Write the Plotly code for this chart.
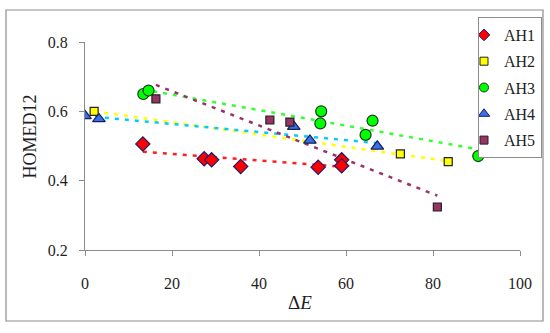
import numpy as np
import plotly.graph_objects as go

# ---- data ----
series_names = ["AH1", "AH2", "AH3", "AH4", "AH5"]
ah1_x = [13.3, 27.4, 29.1, 35.8, 53.6, 59.0, 59.0]
ah1_y = [0.506, 0.463, 0.460, 0.441, 0.439, 0.460, 0.443]
ah2_x = [2.1, 72.5, 83.5]
ah2_y = [0.600, 0.477, 0.455]
ah3_x = [13.4, 14.6, 54.3, 54.1, 66.1, 64.5, 90.4]
ah3_y = [0.650, 0.660, 0.600, 0.565, 0.573, 0.532, 0.471]
ah4_x = [0.0, 3.2, 48.0, 51.7, 67.2]
ah4_y = [0.587, 0.578, 0.556, 0.516, 0.499]
ah5_x = [16.3, 42.5, 47.1, 81.0]
ah5_y = [0.636, 0.575, 0.569, 0.324]
x_ticks = [0, 20, 40, 60, 80, 100]
y_ticks = [0.2, 0.4, 0.6, 0.8]
x_title = "Δ<i>E</i>"
y_title = "HOMED12"

xs = [ah1_x, ah2_x, ah3_x, ah4_x, ah5_x]
ys = [ah1_y, ah2_y, ah3_y, ah4_y, ah5_y]

# ---- layout geometry (pixels) ----
W, H = 550, 333
L, R, T, B = 85, 30, 42, 83
PW, PH = W - L - R, H - T - B


def px_x(p):
    return (p - L) / PW


def px_y(p):
    return (H - B - p) / PH


# ---- styles ----
SERIF = "Liberation Serif"
TEXT = "#1E1E1E"
symbols = ["diamond", "square", "circle", "triangle-up", "square"]
sizes = [11, 8, 11, 11, 8]
legend_sizes = [9, 8, 9, 10, 8]
fills = ["#FF0000", "#FFFF00", "#00FF00", "#3A6FE8", "#993366"]
outlines = ["#1F1A6E", "#222222", "#1A3A1A", "#15205A", "#222222"]
trend_colors = ["#FF2020", "#FFFF00", "#33FF33", "#00CCFF", "#993366"]

fig = go.Figure()

# trendlines (linear least-squares fits, like the Excel trendlines)
for i in range(5):
    x = np.array(xs[i])
    y = np.array(ys[i])
    k, b = np.polyfit(x, y, 1)
    tx = np.array([x.min(), x.max()])
    fig.add_trace(go.Scatter(
        x=tx, y=k * tx + b, mode="lines", showlegend=False, hoverinfo="skip",
        line=dict(color=trend_colors[i], width=2.5, dash="4px,6px"),
    ))

# data markers
for i in range(5):
    fig.add_trace(go.Scatter(
        x=xs[i], y=ys[i], mode="markers", name=series_names[i], showlegend=False,
        marker=dict(symbol=symbols[i], size=sizes[i], color=fills[i],
                    line=dict(color=outlines[i], width=1.2)),
    ))

# legend entries (smaller symbols, as in the reference legend)
for i in range(5):
    fig.add_trace(go.Scatter(
        x=[None], y=[None], mode="markers", name=series_names[i],
        legendgroup=series_names[i],
        marker=dict(symbol=symbols[i], size=legend_sizes[i], color=fills[i],
                    line=dict(color=outlines[i], width=1)),
    ))

axis_common = dict(
    showgrid=False, zeroline=False, showline=True, linecolor="#8C8C8C", linewidth=1,
    ticks="outside", tickcolor="#8C8C8C", ticklen=5, tickwidth=1,
    tickfont=dict(family=SERIF, size=16, color=TEXT),
)

fig.update_layout(
    width=W, height=H,
    margin=dict(l=L, r=R, t=T, b=B, autoexpand=False),
    paper_bgcolor="white", plot_bgcolor="white",
    font=dict(family=SERIF, color=TEXT),
    xaxis=dict(range=[0, 100], tickvals=x_ticks, ticklabelstandoff=14, **axis_common),
    yaxis=dict(range=[0.2, 0.8], tickvals=y_ticks, tickformat=".1f",
               ticklabelstandoff=8, **axis_common),
    legend=dict(x=px_x(478), y=px_y(17), xanchor="left", yanchor="top",
                bordercolor="#8C8C8C", borderwidth=1, bgcolor="white",
                font=dict(family=SERIF, size=16, color=TEXT),
                tracegroupgap=2.5, itemwidth=30, indentation=-15),
    showlegend=True,
)

# axis titles
fig.add_annotation(text=x_title, xref="paper", yref="paper", x=px_x(300), y=px_y(302),
                   showarrow=False, xanchor="center", yanchor="middle",
                   font=dict(family=SERIF, size=19, color=TEXT))
fig.add_annotation(text=y_title, xref="paper", yref="paper", x=px_x(29), y=px_y(136.5),
                   showarrow=False, xanchor="center", yanchor="middle", textangle=-90,
                   font=dict(family=SERIF, size=18, color=TEXT))

# outer chart border
fig.add_shape(type="rect", xref="paper", yref="paper",
              x0=px_x(6), x1=px_x(543), y0=px_y(321), y1=px_y(10),
              line=dict(color="#8C8C8C", width=1.2), fillcolor="rgba(0,0,0,0)",
              layer="above")

fig.write_html("out.html", config={"displayModeBar": False},
               post_script="document.body.style.margin='0';")
